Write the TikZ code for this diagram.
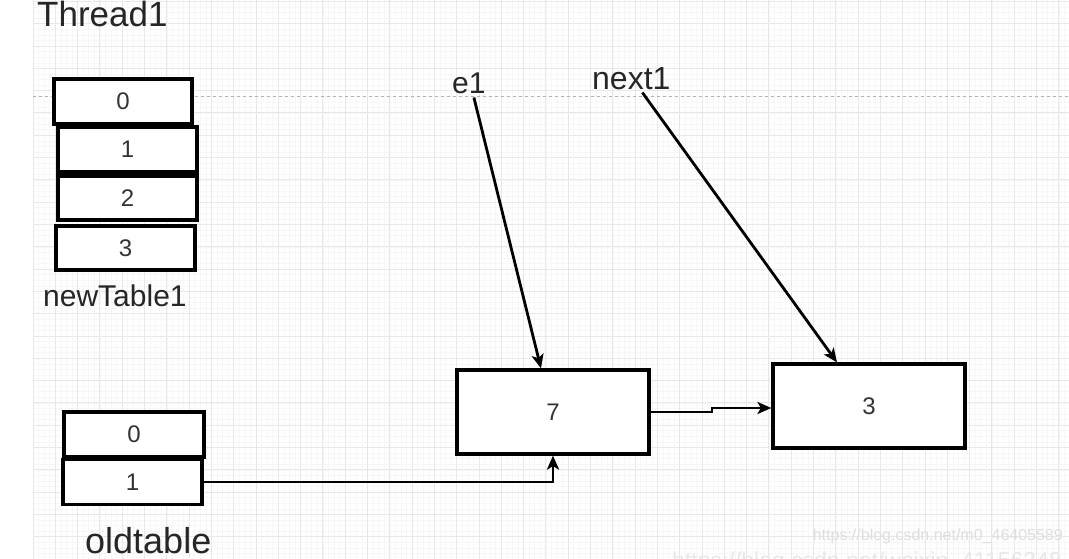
\documentclass[tikz,border=0pt]{standalone}
\usepackage{fontspec}
\setmainfont{Liberation Sans}
\usetikzlibrary{arrows.meta}

\begin{document}
\begin{tikzpicture}[x=1pt, y=-1pt,
	cell/.style = {draw, line width=3.2pt, minimum width=139pt, minimum height=45pt, inner sep=0pt, fill=white, text=black!80, font=\fontsize{24}{24}\selectfont},
	entry/.style = {cell, minimum width=192pt, minimum height=84pt},
	lbl/.style = {inner sep=0pt, anchor=base west, text=black!85},
	arr/.style = {-{Stealth[length=14pt, width=12pt, inset=3.5pt]}, line width=2.8pt}]
	\useasboundingbox (0,0) rectangle (1069,559);
	\fill[white] (0,0) rectangle (1069,559);
	\foreach \i in {0,...,185} \draw[black!3, line width=0.6pt] ({33+\i*5.575},0) -- ({33+\i*5.575},559);
	\foreach \j in {0,...,100} \draw[black!3, line width=0.6pt] (33,{1.5+\j*5.575}) -- (1069,{1.5+\j*5.575});
	\foreach \i in {0,...,46} \draw[black!9, line width=1pt] ({33+\i*22.3},0) -- ({33+\i*22.3},559);
	\foreach \j in {0,...,25} \draw[black!9, line width=1pt] (33,{1.5+\j*22.3}) -- (1069,{1.5+\j*22.3});
	\draw[black!30, dashed, line width=0.8pt] (33,96) -- (1069,96);

	\node[lbl, font=\fontsize{35}{35}\selectfont] (thread) at (37,27) {Thread1};
	\node[cell, minimum width=138pt] (n0) at (123,101.5) {0};
	\node[cell] (n1) at (127.5,149.5) {1};
	\node[cell, minimum height=44pt] (n2) at (127.5,198) {2};
	\node[cell, minimum height=44pt] (n3) at (125.5,248) {3};
	\node[lbl, font=\fontsize{30}{30}\selectfont] (newtab) at (43,306) {newTable1};

	\node[cell, minimum width=140pt] (o0) at (134,434.5) {0};
	\node[cell] (o1) at (132.5,482) {1};
	\node[lbl, font=\fontsize{36}{36}\selectfont] (oldtab) at (85,553) {oldtable};

	\node[entry] (e7) at (553,412) {7};
	\node[entry] (e3) at (869,406) {3};
	\node[lbl, font=\fontsize{30}{30}\selectfont] (e1) at (452,94) {e1};
	\node[lbl, font=\fontsize{32}{32}\selectfont] (next1) at (592,90) {next1};

	\draw[arr] (o1.east) -| (e7.south);
	\draw[arr] (e7.east) -- (712,412) -- (712,408) -- (e3.west |- 0,408);
	\draw[arr] ([shift={(5pt,-3pt)}]e1.south) -- ([xshift=-12pt]e7.north);
	\draw[arr] ([shift={(11pt,-2pt)}]next1.south) -- ([xshift=-32pt]e3.north);

	\begin{scope}
		\clip (0,0) rectangle (1069,559);
		\node[inner sep=0pt, anchor=base east, text=black!13, font=\fontsize{16}{16}\selectfont] (mark1) at (1063,540) {https://blog.csdn.net/m0\_46405589};
		\node[inner sep=0pt, anchor=base east, text=black!9, font=\fontsize{23}{23}\selectfont] (mark2) at (1062,568) {https://blog.csdn.net/weixin\_41156348};
	\end{scope}
\end{tikzpicture}
\end{document}
